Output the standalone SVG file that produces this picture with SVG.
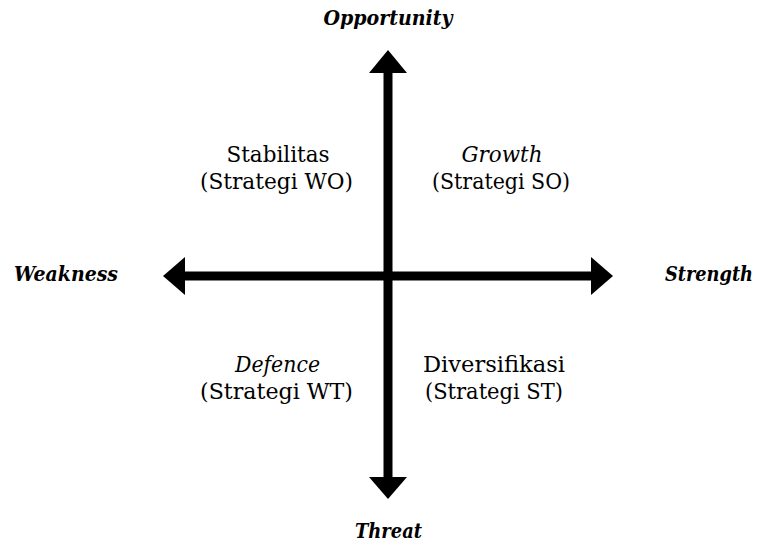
<svg xmlns="http://www.w3.org/2000/svg" width="758" height="544" viewBox="0 0 758 544">
<style>
.ax{font-family:"DejaVu Serif Condensed","DejaVu Serif","Liberation Serif",serif;font-stretch:condensed;font-size:20px;font-weight:bold;font-style:italic;fill:#000;text-anchor:middle}
.q{font-family:"DejaVu Serif Condensed","DejaVu Serif","Liberation Serif",serif;font-stretch:condensed;font-size:22px;fill:#000;text-anchor:middle}
.it{font-style:italic}
</style>
<rect width="758" height="544" fill="#fff"/>
<g id="connectors" fill="#000">
<rect x="383.5" y="70" width="9" height="410"/>
<polygon points="388,50 407,73 369,73"/>
<polygon points="388,499 407,477 369,477"/>
<rect x="180" y="271.5" width="415" height="9"/>
<polygon points="163,276 185,257 185,295"/>
<polygon points="613,276 591,257 591,295"/>
</g>
<g id="opportunity"><text class="ax" x="388" y="25" textLength="129" lengthAdjust="spacingAndGlyphs">Opportunity</text></g>
<g id="threat"><text class="ax" x="388.5" y="538" textLength="67" lengthAdjust="spacingAndGlyphs">Threat</text></g>
<g id="weakness"><text class="ax" x="66" y="281" textLength="104" lengthAdjust="spacingAndGlyphs">Weakness</text></g>
<g id="strength"><text class="ax" x="709" y="281" textLength="88" lengthAdjust="spacingAndGlyphs">Strength</text></g>
<g id="wo">
<text class="q" x="278" y="162" textLength="103" lengthAdjust="spacingAndGlyphs">Stabilitas</text>
<text class="q" x="276.5" y="189" textLength="153" lengthAdjust="spacingAndGlyphs">(Strategi WO)</text>
</g>
<g id="so">
<text class="q it" x="502" y="162" textLength="81" lengthAdjust="spacingAndGlyphs">Growth</text>
<text class="q" x="501" y="189" textLength="138" lengthAdjust="spacingAndGlyphs">(Strategi SO)</text>
</g>
<g id="wt">
<text class="q it" x="277.5" y="372" textLength="85" lengthAdjust="spacingAndGlyphs">Defence</text>
<text class="q" x="276.5" y="399" textLength="153" lengthAdjust="spacingAndGlyphs">(Strategi WT)</text>
</g>
<g id="st">
<text class="q" x="494" y="372" textLength="142" lengthAdjust="spacingAndGlyphs">Diversifikasi</text>
<text class="q" x="494" y="399" textLength="138" lengthAdjust="spacingAndGlyphs">(Strategi ST)</text>
</g>
</svg>
